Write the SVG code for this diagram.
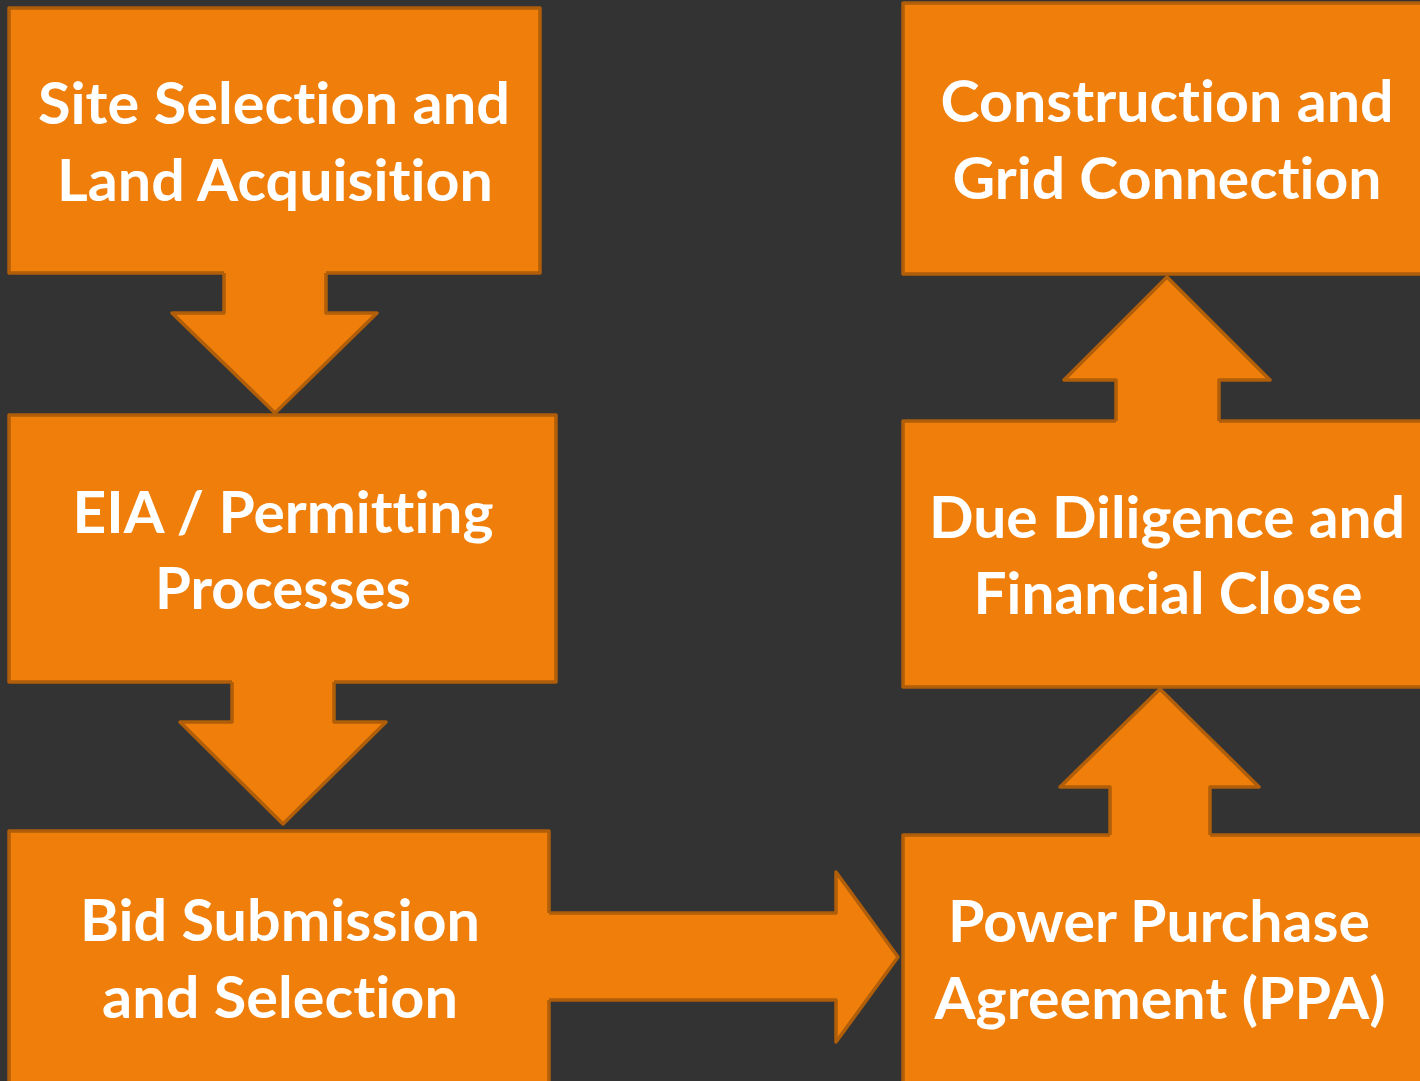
<svg xmlns="http://www.w3.org/2000/svg" width="1420" height="1081" viewBox="0 0 1420 1081">
<style>
.box{fill:#EF7F0A;stroke:#B05E0A;stroke-width:3.5;stroke-linejoin:round}
.afill{fill:#EF7F0A;stroke:none}
.aline{fill:none;stroke:#B05E0A;stroke-width:3.5;stroke-linejoin:round}
.t{font-family:Lato,"Open Sans","Liberation Sans",sans-serif;font-weight:700;font-size:58px;fill:#FFFFFF;text-anchor:middle;font-variant-ligatures:none;font-feature-settings:"liga" 0,"clig" 0}
</style>
<rect x="0" y="0" width="1420" height="1081" fill="#333333"/>
<g id="site-selection">
<rect class="box" x="9" y="8" width="531" height="265"/>
<text class="t" x="274" y="124" textLength="472" lengthAdjust="spacingAndGlyphs">Site Selection and</text>
<text class="t" x="275" y="201" textLength="436" lengthAdjust="spacingAndGlyphs">Land Acquisition</text>
</g>
<g id="eia-permitting">
<rect class="box" x="9" y="415" width="547" height="267"/>
<text class="t" x="283" y="533" textLength="421" lengthAdjust="spacingAndGlyphs">EIA / Permitting</text>
<text class="t" x="283" y="609" textLength="256" lengthAdjust="spacingAndGlyphs">Processes</text>
</g>
<g id="bid-submission">
<rect class="box" x="9" y="831" width="540" height="270"/>
<text class="t" x="280" y="941" textLength="400" lengthAdjust="spacingAndGlyphs">Bid Submission</text>
<text class="t" x="280" y="1018" textLength="356" lengthAdjust="spacingAndGlyphs">and Selection</text>
</g>
<g id="ppa">
<rect class="box" x="903" y="835" width="540" height="270"/>
<text class="t" x="1159" y="942" textLength="422" lengthAdjust="spacingAndGlyphs">Power Purchase</text>
<text class="t" x="1160" y="1019" textLength="451" lengthAdjust="spacingAndGlyphs">Agreement (PPA)</text>
</g>
<g id="due-diligence">
<rect class="box" x="903" y="421" width="540" height="266"/>
<text class="t" x="1167" y="538" textLength="476" lengthAdjust="spacingAndGlyphs">Due Diligence and</text>
<text class="t" x="1168" y="614" textLength="389" lengthAdjust="spacingAndGlyphs">Financial Close</text>
</g>
<g id="construction">
<rect class="box" x="903" y="3" width="540" height="271"/>
<text class="t" x="1167" y="122" textLength="453" lengthAdjust="spacingAndGlyphs">Construction and</text>
<text class="t" x="1167" y="199" textLength="429" lengthAdjust="spacingAndGlyphs">Grid Connection</text>
</g>
<g id="connectors">
<polygon class="afill" points="224,266 326,266 326,313 377,313 275,413 172,313 224,313"/>
<path class="aline" d="M224,273 V313 H172 L275,413 L377,313 H326 V273"/>
<polygon class="afill" points="232,676 334,676 334,722 386,722 283,824 180,722 232,722"/>
<path class="aline" d="M232,682 V722 H180 L283,824 L386,722 H334 V682"/>
<polygon class="afill" points="543,913 836,913 836,872 898,957 836,1042 836,1000 543,1000"/>
<path class="aline" d="M549,913 H836 V872 L898,957 L836,1042 V1000 H549"/>
<polygon class="afill" points="1110,841 1110,787 1060,787 1160,689 1259,787 1210,787 1210,841"/>
<path class="aline" d="M1110,835 V787 H1060 L1160,689 L1259,787 H1210 V835"/>
<polygon class="afill" points="1116,427 1116,380 1064,380 1167,277 1270,380 1219,380 1219,427"/>
<path class="aline" d="M1116,421 V380 H1064 L1167,277 L1270,380 H1219 V421"/>
</g>
</svg>
